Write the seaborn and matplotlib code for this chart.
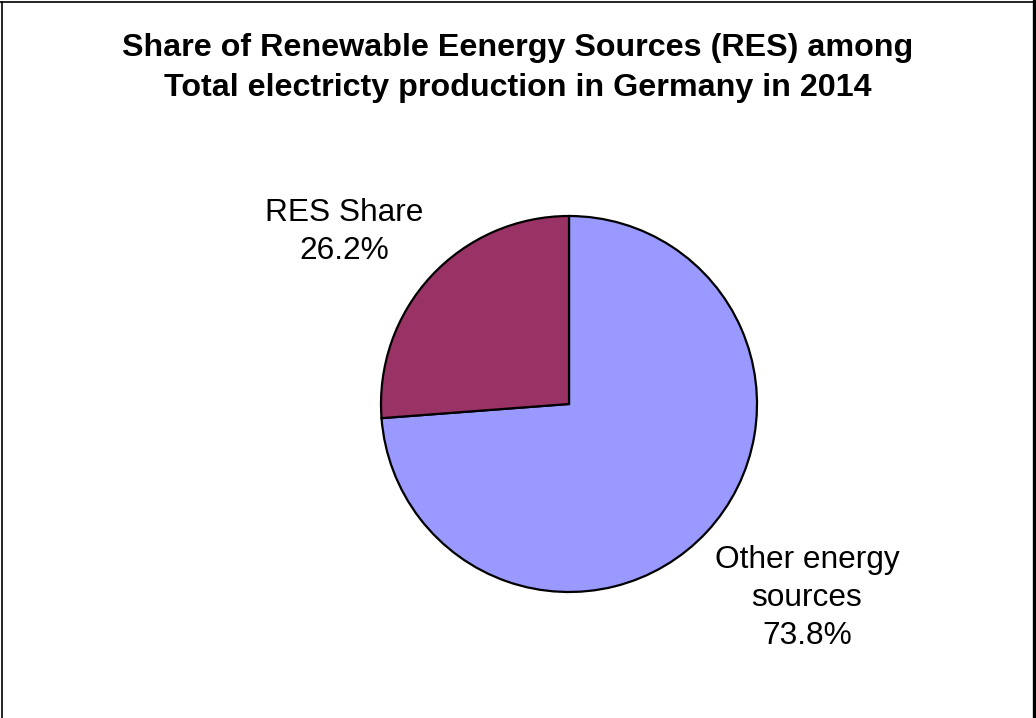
import matplotlib
matplotlib.use("Agg")
import matplotlib.pyplot as plt
from matplotlib.lines import Line2D
import seaborn as sns

# Electricity production shares in Germany, 2014
categories = ["Other energy\nsources", "RES Share"]
shares = [73.8, 26.2]
colors = ["#9999FF", "#993366"]
title_lines = ["Share of Renewable Eenergy Sources (RES) among",
               "Total electricty production in Germany in 2014"]

sns.set_theme(style="white")
plt.rcParams["font.family"] = ["Liberation Sans", "DejaVu Sans"]

W, H = 1036, 718
fig = plt.figure(figsize=(W / 100, H / 100), dpi=100)
fig.patch.set_facecolor("white")

# pie centred at (569, 404) px with radius 188 px
cx, cy, r = 569, 404, 188
ax = fig.add_axes([(cx - r) / W, (H - cy - r) / H, 2 * r / W, 2 * r / H])
wedges, _ = ax.pie(shares, colors=colors, startangle=90, counterclock=False,
                   radius=1.0,
                   wedgeprops=dict(edgecolor="black", linewidth=1.6))
ax.set_xlim(-1, 1)
ax.set_ylim(-1, 1)
ax.set_aspect("equal")
ax.axis("off")

# slice labels: name plus the value it was drawn from
label_pos = {"RES Share": ((344 - cx) / r, (cy - 232) / r),
             "Other energy\nsources": ((807 - cx) / r, (cy - 598) / r)}
for name, val in zip(categories, shares):
    x, y = label_pos[name]
    ax.text(x, y, f"{name}\n{val:.1f}%", ha="center", va="center",
            fontsize=22.8, linespacing=1.36, color="black", clip_on=False)

fig.text(0.5, 1 - 68 / H, "\n".join(title_lines), ha="center", va="center",
         fontsize=23.2, fontweight="bold", linespacing=1.42, color="black")

# chart frame
fig.add_artist(Line2D([1.5 / W, 1.5 / W], [0, 1 - 1.5 / H], color="black", lw=1.2))
fig.add_artist(Line2D([0, 1 - 2 / W], [1 - 1.5 / H, 1 - 1.5 / H], color="black", lw=1.2))
fig.add_artist(Line2D([1 - 2.5 / W, 1 - 2.5 / W], [0, 1], color="black", lw=2.4))

fig.savefig("out.png", dpi=100, facecolor="white")
